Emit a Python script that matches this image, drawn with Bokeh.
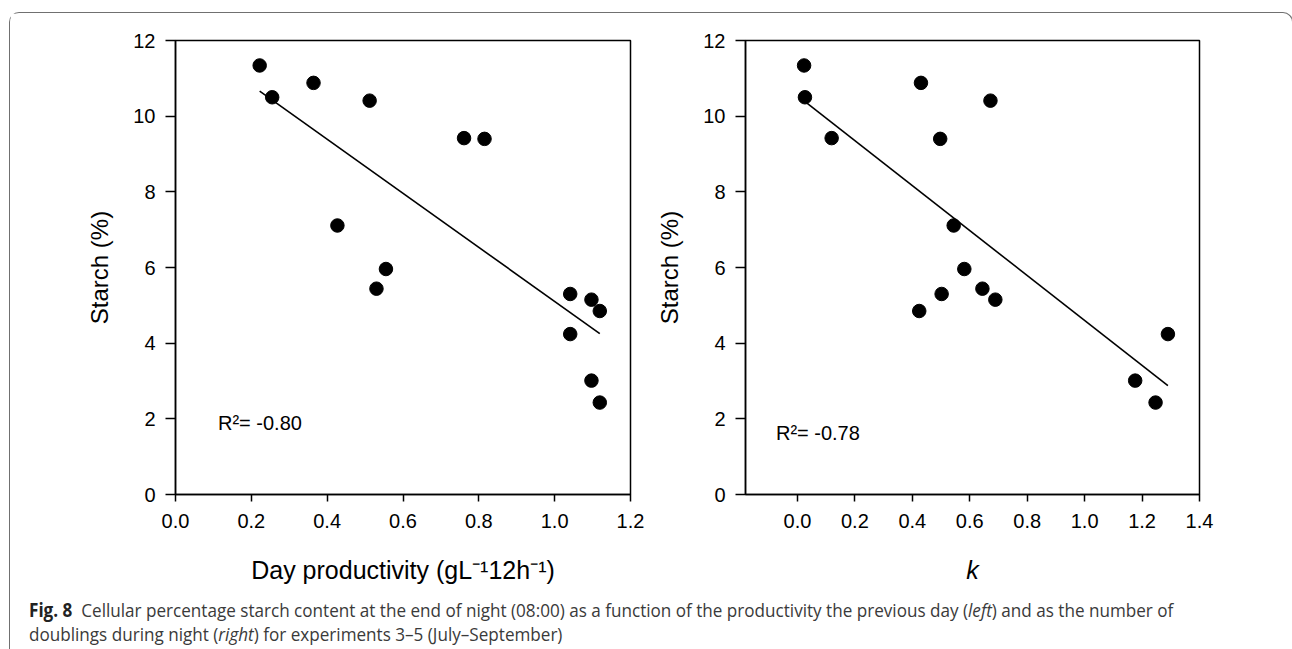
import numpy as np
from bokeh.plotting import figure
from bokeh.models import Range1d, FixedTicker, PrintfTickFormatter, Label, Div
from bokeh.layouts import row, column
from bokeh.embed import file_html
from bokeh.resources import INLINE

# ---- data ----
productivity = [0.222, 0.255, 0.364, 0.512, 0.761, 0.815, 0.427, 0.555, 0.530,
                1.041, 1.097, 1.119, 1.041, 1.097, 1.119]
starch_prod = [11.34, 10.50, 10.88, 10.41, 9.42, 9.40, 7.11, 5.96, 5.44,
               5.30, 5.15, 4.85, 4.24, 3.01, 2.43]

k_doublings = [0.023, 0.026, 0.119, 0.430, 0.672, 0.497, 0.544, 0.581, 0.502,
               0.644, 0.689, 0.424, 1.290, 1.176, 1.247]
starch_k = [11.34, 10.50, 9.42, 10.88, 10.41, 9.40, 7.11, 5.96, 5.30,
            5.44, 5.15, 4.85, 4.24, 3.01, 2.43]

y_ticks = [0, 2, 4, 6, 8, 10, 12]
x_ticks_left = [0.0, 0.2, 0.4, 0.6, 0.8, 1.0, 1.2]
x_ticks_right = [0.0, 0.2, 0.4, 0.6, 0.8, 1.0, 1.2, 1.4]

r2_left = "R\u00b2= -0.80"
r2_right = "R\u00b2= -0.78"
r2_left_pos = (0.112, 1.88)
r2_right_pos = (-0.075, 1.63)

xlabel_left = "Day productivity (gL\u207b\u00b912h\u207b\u00b9)"
xlabel_right = "k"
ylabel = "Starch (%)"

FONT = "Liberation Sans"


def make_fig(xs, ys, xr, xticks, xlabel, r2, r2pos, width, mbl, mbr, italic=False):
    p = figure(width=width, height=576, x_range=Range1d(*xr), y_range=Range1d(0, 12),
               output_backend="svg", toolbar_location=None,
               min_border_left=mbl, min_border_right=mbr,
               min_border_top=27, min_border_bottom=95)
    p.background_fill_color = "white"
    p.border_fill_color = "white"
    p.grid.visible = False
    p.outline_line_color = "black"
    p.outline_line_width = 1.5
    p.outline_line_alpha = 1.0

    for ax in (p.xaxis[0], p.yaxis[0]):
        ax.axis_line_width = 1.5
        ax.axis_line_color = "black"
        ax.major_tick_line_width = 1.5
        ax.major_tick_line_color = "black"
        ax.major_tick_in = 0
        ax.minor_tick_line_color = None
        ax.major_label_text_font = FONT
        ax.major_label_text_font_size = "20px"
        ax.major_label_text_color = "black"
        ax.axis_label_text_font = FONT
        ax.axis_label_text_color = "black"

    p.xaxis.ticker = FixedTicker(ticks=xticks)
    p.xaxis.formatter = PrintfTickFormatter(format="%.1f")
    p.xaxis.major_tick_out = 7
    p.xaxis.major_label_standoff = 12
    p.xaxis.axis_label = xlabel
    p.xaxis.axis_label_text_font_size = "25px"
    p.xaxis.axis_label_standoff = 25
    p.xaxis.axis_label_text_font_style = "italic" if italic else "normal"

    p.yaxis.ticker = FixedTicker(ticks=y_ticks)
    p.yaxis.major_tick_out = 10
    p.yaxis.major_label_standoff = 10
    p.yaxis.axis_label = ylabel
    p.yaxis.axis_label_text_font_size = "24px"
    p.yaxis.axis_label_standoff = 17
    p.yaxis.axis_label_text_font_style = "normal"

    # regression line from the data
    slope, icpt = np.polyfit(np.array(xs), np.array(ys), 1)
    lx = np.array([min(xs), max(xs)])
    p.line(lx, slope * lx + icpt, line_color="black", line_width=1.6)

    p.scatter(xs, ys, size=13.5, marker="circle", fill_color="black", line_color="black")

    p.add_layout(Label(x=r2pos[0], y=r2pos[1], text=r2, text_font=FONT,
                       text_font_size="20px", text_baseline="middle",
                       text_align="left", text_color="black"))
    return p


p1 = make_fig(productivity, starch_prod, (0, 1.2), x_ticks_left, xlabel_left,
              r2_left, r2_left_pos, 640, 165, 20)
p2 = make_fig(k_doublings, starch_k, (-0.181, 1.4), x_ticks_right, xlabel_right,
              r2_right, r2_right_pos, 632, 95, 83, italic=True)

caption_html = (
    '<div style="font-family: \'Open Sans\', \'Noto Sans\', sans-serif; '
    'font-size:19px; line-height:24px; color:#3a3a3a; white-space:nowrap; '
    'padding:4px 0 0 14px;">'
    '<div style="display:inline-block; transform:scaleX(0.90); transform-origin:left top;">'
    '<b style="color:#222">Fig.&nbsp;8</b>&nbsp; Cellular percentage starch content at the end of night '
    '(08:00) as a function of the productivity the previous day (<i>left</i>) and as the number of<br>'
    'doublings during night (<i>right</i>) for experiments 3\u20135 (July\u2013September)'
    '</div></div>'
)
cap = Div(text=caption_html, width=1272, height=52)

layout = column(row(p1, p2), cap, margin=(12, 0, 0, 9),
                styles={"border": "1px solid #707070", "border-bottom": "none",
                        "border-radius": "10px 10px 0 0", "background": "white"})

open("out.html", "w").write(file_html(layout, INLINE))
